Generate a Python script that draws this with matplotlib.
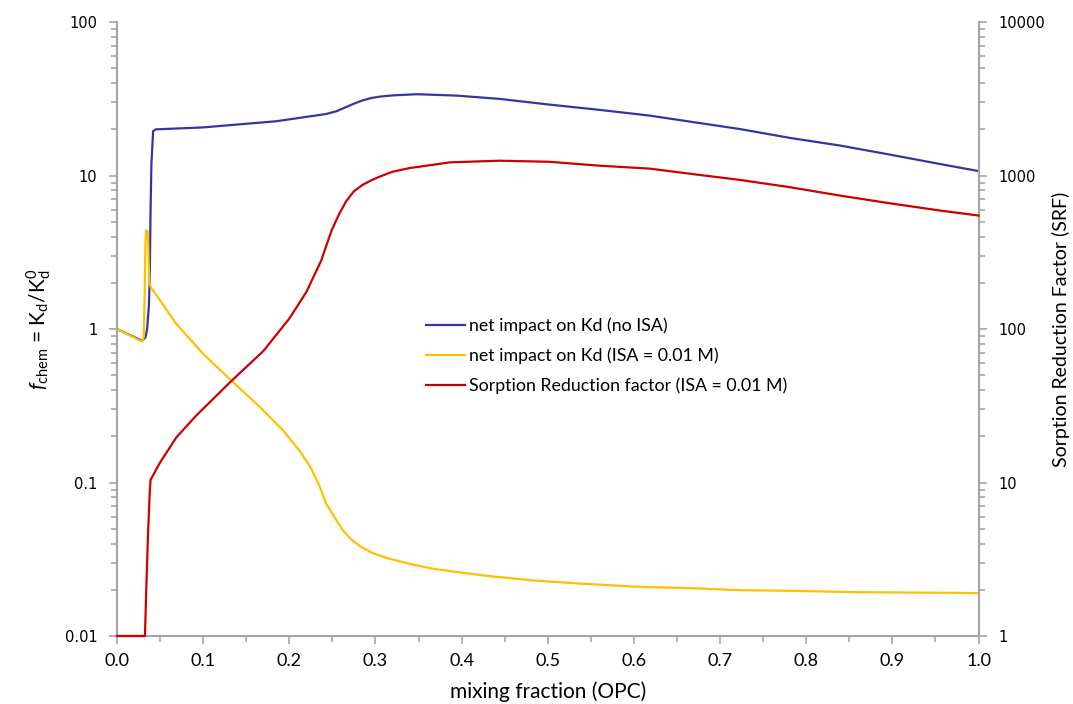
import matplotlib
matplotlib.use("Agg")
from matplotlib import pyplot as plt
from matplotlib.ticker import FixedLocator, FixedFormatter, MultipleLocator, LogLocator, NullFormatter

# mixing fraction (OPC) and readings
blue_x = [0.0, 0.029, 0.033, 0.035, 0.037, 0.038, 0.039, 0.040, 0.042, 0.045,
          0.1, 0.185, 0.243, 0.255, 0.265, 0.275, 0.285, 0.295, 0.305, 0.32,
          0.348, 0.394, 0.444, 0.502, 0.56, 0.618, 0.676, 0.723, 0.781, 0.839,
          0.897, 0.955, 1.0]
blue_y = [1.0, 0.84, 0.88, 1.0, 1.4, 2.1, 6.0, 12.0, 19.5, 20.0,
          20.6, 22.6, 25.2, 26.3, 27.8, 29.4, 30.9, 32.0, 32.7, 33.3,
          33.9, 33.2, 31.6, 29.0, 26.8, 24.6, 22.0, 20.1, 17.6, 15.7,
          13.7, 11.9, 10.7]

yellow_x = [0.0, 0.029, 0.031, 0.032, 0.033, 0.034, 0.036, 0.037, 0.038, 0.040,
            0.069, 0.1, 0.133, 0.166, 0.193, 0.212, 0.225, 0.235, 0.243, 0.252,
            0.262, 0.272, 0.284, 0.298, 0.315, 0.34, 0.367, 0.425, 0.483, 0.541,
            0.599, 0.665, 0.723, 0.781, 0.858, 0.974, 1.0]
yellow_y = [1.0, 0.83, 0.88, 1.5, 3.5, 4.4, 4.3, 2.5, 1.95, 1.85,
            1.08, 0.69, 0.46, 0.31, 0.218, 0.161, 0.125, 0.095, 0.0726, 0.060,
            0.049, 0.0425, 0.0378, 0.0345, 0.0320, 0.0295, 0.0274, 0.0248, 0.0230, 0.0219,
            0.0210, 0.0205, 0.0199, 0.0197, 0.0193, 0.0191, 0.019]

srf_x = [0.0, 0.0325, 0.034, 0.036, 0.038, 0.039, 0.05, 0.069, 0.092, 0.133,
         0.17, 0.2, 0.22, 0.237, 0.249, 0.258, 0.266, 0.275, 0.285, 0.295,
         0.305, 0.32, 0.34, 0.387, 0.444, 0.502, 0.56, 0.618, 0.676, 0.723,
         0.781, 0.839, 0.897, 0.955, 1.0]
srf_y = [1, 1, 2, 4.5, 8.5, 10.4, 13.5, 19.7, 27.3, 46,
         72, 117, 175, 279, 438, 563, 680, 790, 870, 930,
         985, 1060, 1120, 1220, 1250, 1230, 1160, 1110, 1010, 937,
         840, 741, 660, 592, 549]

left_ticks = [0.01, 0.1, 1, 10, 100]
left_labels = ["0.01", "0.1", "1", "10", "100"]
right_ticks = [1, 10, 100, 1000, 10000]
right_labels = ["1", "10", "100", "1000", "10000"]

plt.rcParams['mathtext.fontset'] = 'custom'
plt.rcParams['mathtext.rm'] = 'Lato'
plt.rcParams['mathtext.it'] = 'Lato:italic'

GRAY = "#a6a6a6"

fig = plt.figure(figsize=(10.73, 7.04), dpi=100)
ax = fig.add_axes([0.109, 0.0966, 0.803, 0.872])
ax2 = ax.twinx()

l1, = ax.plot(blue_x, blue_y, color="#3535a0", lw=1.6, label="net impact on Kd (no ISA)")
l2, = ax.plot(yellow_x, yellow_y, color="#ffc000", lw=1.6, label="net impact on Kd (ISA = 0.01 M)")
l3, = ax2.plot(srf_x, srf_y, color="#cc0000", lw=1.6, clip_on=False, zorder=5,
               label="Sorption Reduction factor (ISA = 0.01 M)")

ax.set_xlim(0, 1)
ax.set_yscale("log")
ax.set_ylim(0.01, 100)
ax2.set_yscale("log")
ax2.set_ylim(1, 10000)

for a in (ax, ax2):
    a.yaxis.set_major_locator(FixedLocator(left_ticks if a is ax else right_ticks))
    a.yaxis.set_minor_locator(LogLocator(base=10, subs=range(2, 10)))
    a.yaxis.set_minor_formatter(NullFormatter())
    for s in a.spines.values():
        s.set_color(GRAY)
        s.set_linewidth(1.5)
        s.set_zorder(1)
    a.spines["top"].set_visible(False)
    a.tick_params(which="both", colors=GRAY, width=1.2)
    a.tick_params(which="major", length=6, labelsize=10.5, labelcolor="black")
    a.tick_params(which="minor", length=4)

ax.yaxis.set_major_formatter(FixedFormatter(left_labels))
ax2.yaxis.set_major_formatter(FixedFormatter(right_labels))
ax.xaxis.set_major_locator(MultipleLocator(0.1))
ax.xaxis.set_minor_locator(MultipleLocator(0.05))
ax.xaxis.set_major_formatter(matplotlib.ticker.FormatStrFormatter("%.1f"))
for t in ax.get_xticklabels():
    t.set_fontfamily("Lato")
    t.set_fontsize(13)
ax.tick_params(axis="x", which="major", pad=6)
ax.tick_params(axis="y", which="major", pad=8)
ax2.tick_params(axis="y", which="major", pad=8)

ax.set_xlabel("mixing fraction (OPC)", fontfamily="Lato", fontsize=15, labelpad=9)
ax.set_ylabel(r"$f_{\mathrm{chem}}$ = K$_{\mathrm{d}}$/K$_{\mathrm{d}}^{0}$", fontfamily="Lato",
              fontsize=15, labelpad=8)
ax2.set_ylabel("Sorption Reduction Factor (SRF)", fontfamily="Lato", fontsize=14, labelpad=5)

leg = ax.legend(handles=[l1, l2, l3], loc="upper left", bbox_to_anchor=(0.34, 0.545),
                frameon=False, handlelength=2.2, handletextpad=0.25, labelspacing=0.75,
                prop={"family": "Lato", "size": 12.8})

fig.savefig("out.png", dpi=100)
